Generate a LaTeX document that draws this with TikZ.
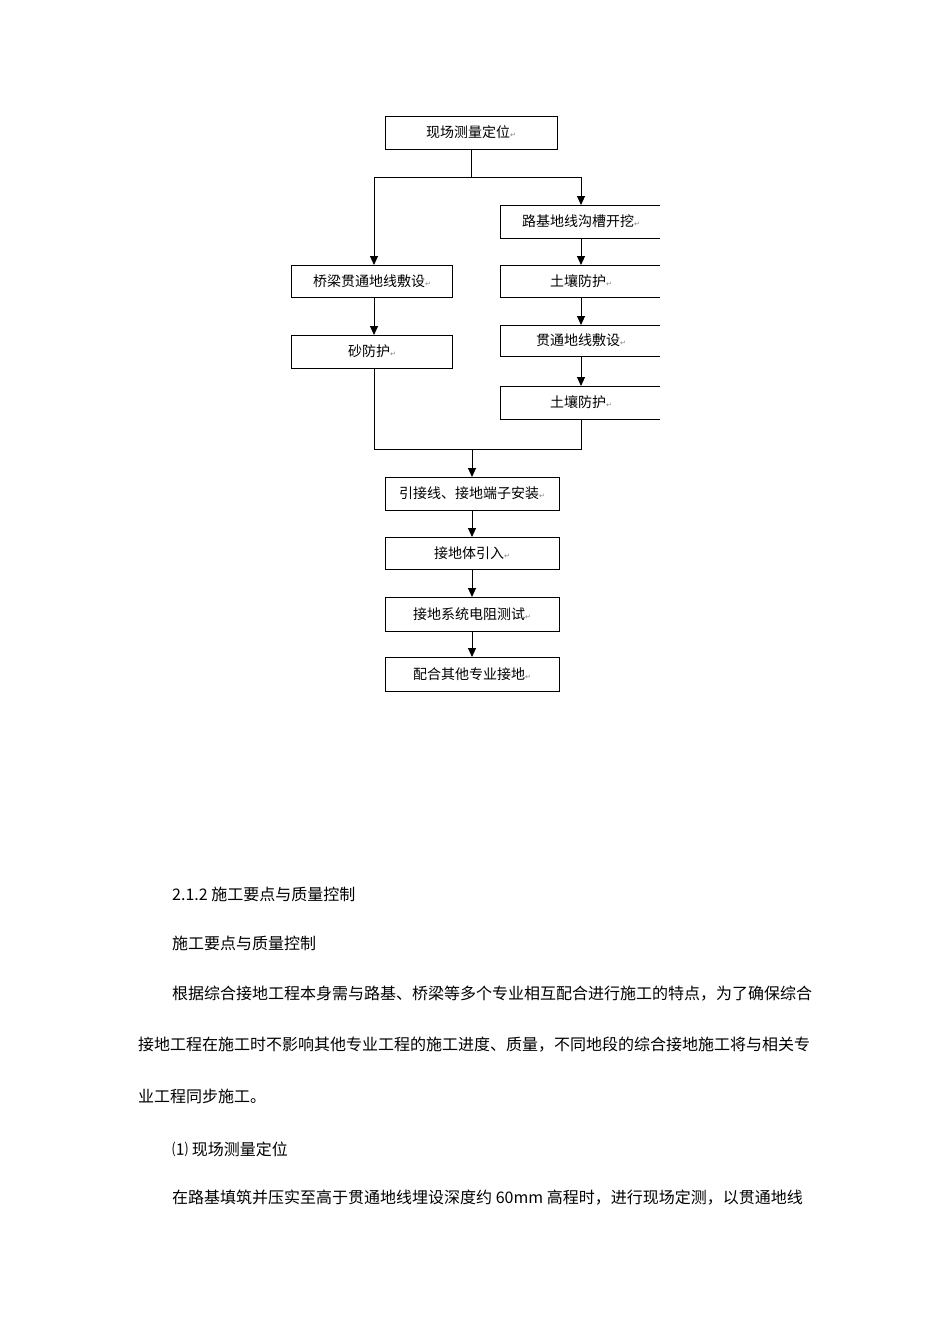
\documentclass[tikz,border=0pt]{standalone}
\usepackage{fontspec}
\setmainfont{DejaVu Sans}
\newfontfamily\cjk{Noto Sans CJK SC}
\newfontfamily\sym{DejaVu Sans}
\usetikzlibrary{arrows.meta}
\begin{document}
\begin{tikzpicture}[x=1pt,y=-1pt,
  bx/.style={draw,line width=1pt,inner sep=0pt},
  lbl/.style={font=\cjk\fontsize{14}{16}\selectfont},
  ln/.style={line width=0.9pt},
  ar/.style={ln,-{Triangle[length=9pt,width=8pt]}},
  para/.style={anchor=west,font=\cjk\fontsize{16}{18}\selectfont,inner sep=0pt}]
\useasboundingbox (0,0) rectangle (950,1344);
\newcommand{\ret}{{\sym\fontsize{7}{8}\selectfont\textcolor{gray}{↵}}}
% boxes
\draw[bx] (385,116) rectangle (557,149); \node[lbl] (a) at (471,132.5) {现场测量定位\ret};
\coordinate (aB) at (471,149);
% right column (open at right)
\foreach \t/\b in {205/238,265/297,325/356,386/419}{
  \draw[line width=1pt] (660,\t) -- (500,\t) -- (500,\b) -- (660,\b);}
\node[lbl] (r1) at (581,221.5) {路基地线沟槽开挖\ret};
\node[lbl] (r2) at (581,281) {土壤防护\ret};
\node[lbl] (r3) at (581,340.5) {贯通地线敷设\ret};
\node[lbl] (r4) at (581,402.5) {土壤防护\ret};
% left column
\draw[bx] (291,265) rectangle (452,297); \node[lbl] (l1) at (372,281) {桥梁贯通地线敷设\ret};
\draw[bx] (291,335) rectangle (452,368); \node[lbl] (l2) at (372,351.5) {砂防护\ret};
% bottom
\draw[bx] (385,477) rectangle (559,510); \node[lbl] (b1) at (472,493.5) {引接线、接地端子安装\ret};
\draw[bx] (385,537) rectangle (559,569); \node[lbl] (b2) at (472,553) {接地体引入\ret};
\draw[bx] (385,597) rectangle (559,631); \node[lbl] (b3) at (472,614) {接地系统电阻测试\ret};
\draw[bx] (385,657) rectangle (559,691); \node[lbl] (b4) at (472,674) {配合其他专业接地\ret};
% connectors
\coordinate (sp) at (471,177);
\draw[ln] (aB) -- (sp);
\draw[ar] (sp) -- (374,177) -- (374,265);
\draw[ar] (sp) -- (581,177) -- (581,205);
\draw[ar] (374,297) -- (374,335);
\draw[ar] (581,238) -- (581,265);
\draw[ar] (581,297) -- (581,325);
\draw[ar] (581,356) -- (581,386);
\coordinate (mg) at (472,449);
\draw[ln] (374,368) -- (374,449) -- (mg);
\draw[ln] (581,419) -- (581,449) -- (mg);
\draw[ar] (mg) -- (472,477);
\draw[ar] (472,510) -- (472,537);
\draw[ar] (472,569) -- (472,597);
\draw[ar] (472,631) -- (472,657);
% text
\node[para] (p1) at (172,894) {2.1.2 施工要点与质量控制};
\node[para] (p2) at (172,943) {施工要点与质量控制};
\node[para] (p3) at (172,994) {根据综合接地工程本身需与路基、桥梁等多个专业相互配合进行施工的特点，为了确保综合};
\node[para] (p4) at (138,1045) {接地工程在施工时不影响其他专业工程的施工进度、质量，不同地段的综合接地施工将与相关专};
\node[para] (p5) at (138,1096) {业工程同步施工。};
\node[para] (p6) at (172,1149) {⑴ 现场测量定位};
\node[para] (p7) at (172,1198) {在路基填筑并压实至高于贯通地线埋设深度约 60mm 高程时，进行现场定测，以贯通地线};
\end{tikzpicture}
\end{document}
